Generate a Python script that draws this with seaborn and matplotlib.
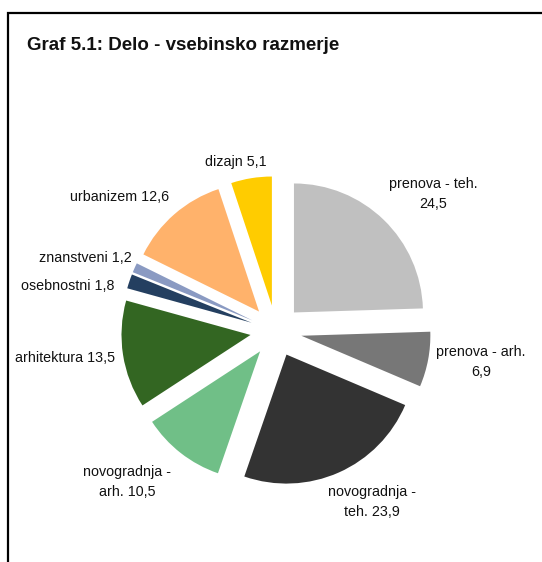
import matplotlib
matplotlib.use("Agg")
import matplotlib.pyplot as plt
import seaborn as sns
from matplotlib.patches import Rectangle

# data
categories = ["prenova - teh.", "prenova - arh.", "novogradnja - teh.", "novogradnja - arh.",
              "arhitektura", "osebnostni", "znanstveni", "urbanizem", "dizajn"]
values = [24.5, 6.9, 23.9, 10.5, 13.5, 1.8, 1.2, 12.6, 5.1]
label_texts = ["prenova - teh.\n24,5", "prenova - arh.\n6,9", "novogradnja -\nteh. 23,9",
               "novogradnja -\narh. 10,5", "arhitektura 13,5", "osebnostni 1,8",
               "znanstveni 1,2", "urbanizem 12,6", "dizajn 5,1"]
colors = ["#C0C0C0", "#777777", "#333333", "#70BF87", "#336622",
          "#243F60", "#8A9AC2", "#FFB26B", "#FFCC00"]

# label positions (pie units, relative to pie centre)
label_pos = [(1.217, 1.062), (1.589, -0.240), (0.744, -1.326), (-1.155, -1.171),
             (-1.636, -0.209), (-1.612, 0.349), (-1.481, 0.566), (-1.213, 1.039),
             (-0.310, 1.310)]

sns.set_theme(style="white")
plt.rcParams["font.family"] = ["Liberation Sans", "DejaVu Sans"]

W, H = 542, 562
fig = plt.figure(figsize=(W / 100, H / 100), dpi=100)
ax = fig.add_axes([0, 0, 1, 1])

ax.pie(values, colors=colors, startangle=90, counterclock=False,
       explode=[0.2] * len(values), radius=1,
       wedgeprops=dict(linewidth=0))

# pie centre at pixel (276, 331), radius 129 px
cx, cy, r = 276, 331, 129
ax.set_aspect("auto")
ax.set_xlim(-cx / r, (W - cx) / r)
ax.set_ylim(-(H - cy) / r, cy / r)
ax.axis("off")

for txt, (x, y) in zip(label_texts, label_pos):
    ax.text(x, y, txt, ha="center", va="center", fontsize=10.3,
            color="#111111", linespacing=1.55)

# chart frame (only top and left visible in the crop)
fig.patches.append(Rectangle((7.5 / W, -0.1), 1.2, (H - 12.5) / H + 0.1,
                             transform=fig.transFigure, fill=False,
                             edgecolor="black", linewidth=1.6))

fig.text(27 / W, 1 - 46 / H, "Graf 5.1: Delo - vsebinsko razmerje",
         ha="left", va="center", fontsize=13.5, fontweight="bold", color="#111111")

fig.savefig("out.png", dpi=100)
plt.close()
